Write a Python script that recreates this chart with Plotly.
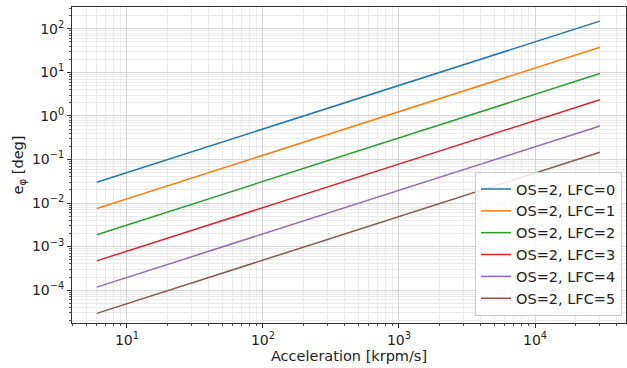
import plotly.graph_objects as go

# Data: straight lines in log-log, start and end points of each series
accel = [6, 30000]
series_names = ["OS=2, LFC=0", "OS=2, LFC=1", "OS=2, LFC=2",
                "OS=2, LFC=3", "OS=2, LFC=4", "OS=2, LFC=5"]
err_lfc0 = [0.03, 150]
err_lfc1 = [0.0075, 37.5]
err_lfc2 = [0.001875, 9.375]
err_lfc3 = [0.00047, 2.34]
err_lfc4 = [0.000117, 0.586]
err_lfc5 = [0.0000293, 0.146]
series_values = [err_lfc0, err_lfc1, err_lfc2, err_lfc3, err_lfc4, err_lfc5]
colors = ["#1f77b4", "#ff7f0e", "#2ca02c", "#d62728", "#9467bd", "#8c564b"]

x_tick_exps = [1, 2, 3, 4]
y_tick_exps = [-4, -3, -2, -1, 0, 1, 2]


def pow_label(e):
    s = str(e).replace("-", "\u2212")
    return "10<sup>" + s + "</sup>"


fig = go.Figure()
for name, vals, c in zip(series_names, series_values, colors):
    fig.add_trace(go.Scatter(x=accel, y=vals, mode="lines", name=name,
                             line=dict(color=c, width=1.5)))

font = "DejaVu Sans, sans-serif"
axis_common = dict(
    type="log", showline=True, linecolor="#333",
    linewidth=1, mirror=True, ticks="outside", ticklen=4, tickcolor="#333",
    showgrid=True, gridcolor="#d5d5d5", gridwidth=1, zeroline=False,
    automargin=False,
    tickfont=dict(family=font, size=14, color="#222"),
    minor=dict(ticks="outside", ticklen=2, tickcolor="#555", showgrid=True,
               gridcolor="#ebebeb", gridwidth=1, dtick="D1"),
)

fig.update_layout(
    width=627, height=368,
    margin=dict(l=72, r=1, t=7, b=45),
    paper_bgcolor="white", plot_bgcolor="white",
    font=dict(family=font, size=14, color="#222"),
    xaxis=dict(axis_common, range=[0.596, 4.669],
               tickvals=[10 ** e for e in x_tick_exps],
               ticktext=[pow_label(e) for e in x_tick_exps],
               title=dict(text="Acceleration [krpm/s]", standoff=0,
                          font=dict(family=font, size=14.5))),
    yaxis=dict(axis_common, range=[-4.755, 2.5],
               tickvals=[10 ** e for e in y_tick_exps],
               ticktext=[pow_label(e) for e in y_tick_exps],
               title=dict(text="e<sub>φ</sub> [deg]", standoff=4,
                          font=dict(family=font, size=14.5))),
    legend=dict(x=0.9928, y=0.022, xanchor="right", yanchor="bottom",
                bgcolor="rgba(255,255,255,0.85)", bordercolor="#cccccc",
                borderwidth=1, font=dict(family=font, size=14.5),
                tracegroupgap=0, itemwidth=30),
    showlegend=True,
)

fig.write_html("out.html", config={"displayModeBar": False},
               post_script="document.body.style.margin='0';document.body.style.overflow='hidden';")
